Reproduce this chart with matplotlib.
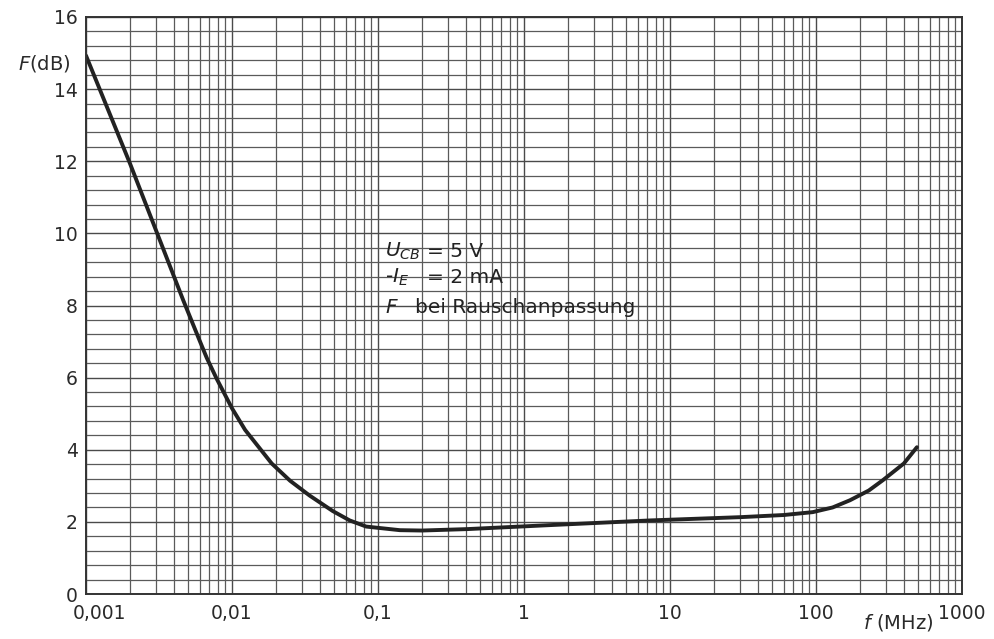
import numpy as np
import matplotlib
matplotlib.use('Agg')
import matplotlib.pyplot as plt
from matplotlib.ticker import LogLocator, MultipleLocator, NullFormatter
from matplotlib.transforms import ScaledTranslation

plt.rcParams['font.family'] = 'DejaVu Sans'
plt.rcParams['mathtext.fontset'] = 'dejavusans'

# Rauschzahl F (dB) über Frequenz f (MHz)
freq_mhz = [0.001, 0.002, 0.00464, 0.00604, 0.00671, 0.00785, 0.01, 0.0123,
            0.0187, 0.025, 0.034, 0.049, 0.064, 0.083, 0.141, 0.2, 0.41, 1.5,
            7.3, 30, 60, 95, 130, 171, 230, 288, 400, 491]
f_db = [14.93, 11.94, 8.14, 7.0, 6.55, 5.97, 5.15, 4.55,
        3.62, 3.14, 2.73, 2.3, 2.04, 1.87, 1.77, 1.76, 1.8, 1.91,
        2.04, 2.13, 2.19, 2.27, 2.4, 2.6, 2.87, 3.16, 3.62, 4.07]

x_ticks = [0.001, 0.01, 0.1, 1, 10, 100, 1000]
x_labels = ['0,001', '0,01', '0,1', '1', '10', '100', '1000']
y_ticks = [0, 2, 4, 6, 8, 10, 12, 14, 16]

fig = plt.figure(figsize=(9.94, 6.39), dpi=100)
ax = fig.add_axes([86 / 994, 45 / 639, 876 / 994, 577 / 639])

ax.set_xscale('log')
ax.set_xlim(0.001, 1000)
ax.set_ylim(0, 16)

# Gitter wie Millimeterpapier (log)
ax.xaxis.set_major_locator(LogLocator(base=10, numticks=20))
ax.xaxis.set_minor_locator(LogLocator(base=10, subs=np.arange(2, 10), numticks=100))
ax.xaxis.set_minor_formatter(NullFormatter())
ax.set_xticks(x_ticks)
ax.set_xticklabels(x_labels)
ax.set_yticks(y_ticks)
ax.yaxis.set_minor_locator(MultipleLocator(0.4))

ax.grid(True, which='major', color='#4a4a4a', lw=1.0)
ax.grid(True, which='minor', color='#5a5a5a', lw=0.9)
ax.tick_params(which='both', length=0)
ax.tick_params(axis='x', labelsize=13.5, pad=7, colors='#2a2a2a')
ax.tick_params(axis='y', labelsize=13.5, pad=6, colors='#2a2a2a')
for s in ax.spines.values():
    s.set_color('#333333')
    s.set_linewidth(1.4)

# erstes Label etwas nach rechts
lab0 = ax.get_xticklabels()[0]
lab0.set_transform(lab0.get_transform() + ScaledTranslation(0.14, 0, fig.dpi_scale_trans))

ax.plot(freq_mhz, f_db, color='#222222', lw=2.8, solid_capstyle='round',
        solid_joinstyle='round')

ax.text(-0.018, 0.92, '$F$(dB)', transform=ax.transAxes, ha='right', va='center',
        fontsize=14, color='#2a2a2a')
ax.text(0.927, -0.05, '$f$ (MHz)', transform=ax.transAxes, ha='center', va='center',
        fontsize=14, color='#2a2a2a')

tc = '#222222'
ax.text(0.112, 9.34, '$U_{CB}$', fontsize=14.5, ha='left', va='baseline', color=tc)
ax.text(0.215, 9.34, '= 5 V', fontsize=14.5, ha='left', va='baseline', color=tc)
ax.text(0.112, 8.62, '-$I_E$', fontsize=14.5, ha='left', va='baseline', color=tc)
ax.text(0.215, 8.62, '= 2 mA', fontsize=14.5, ha='left', va='baseline', color=tc)
ax.text(0.112, 7.78, '$F$', fontsize=14.5, ha='left', va='baseline', color=tc)
ax.text(0.179, 7.78, 'bei Rauschanpassung', fontsize=14.5, ha='left', va='baseline', color=tc)

fig.savefig('out.png', dpi=100)
